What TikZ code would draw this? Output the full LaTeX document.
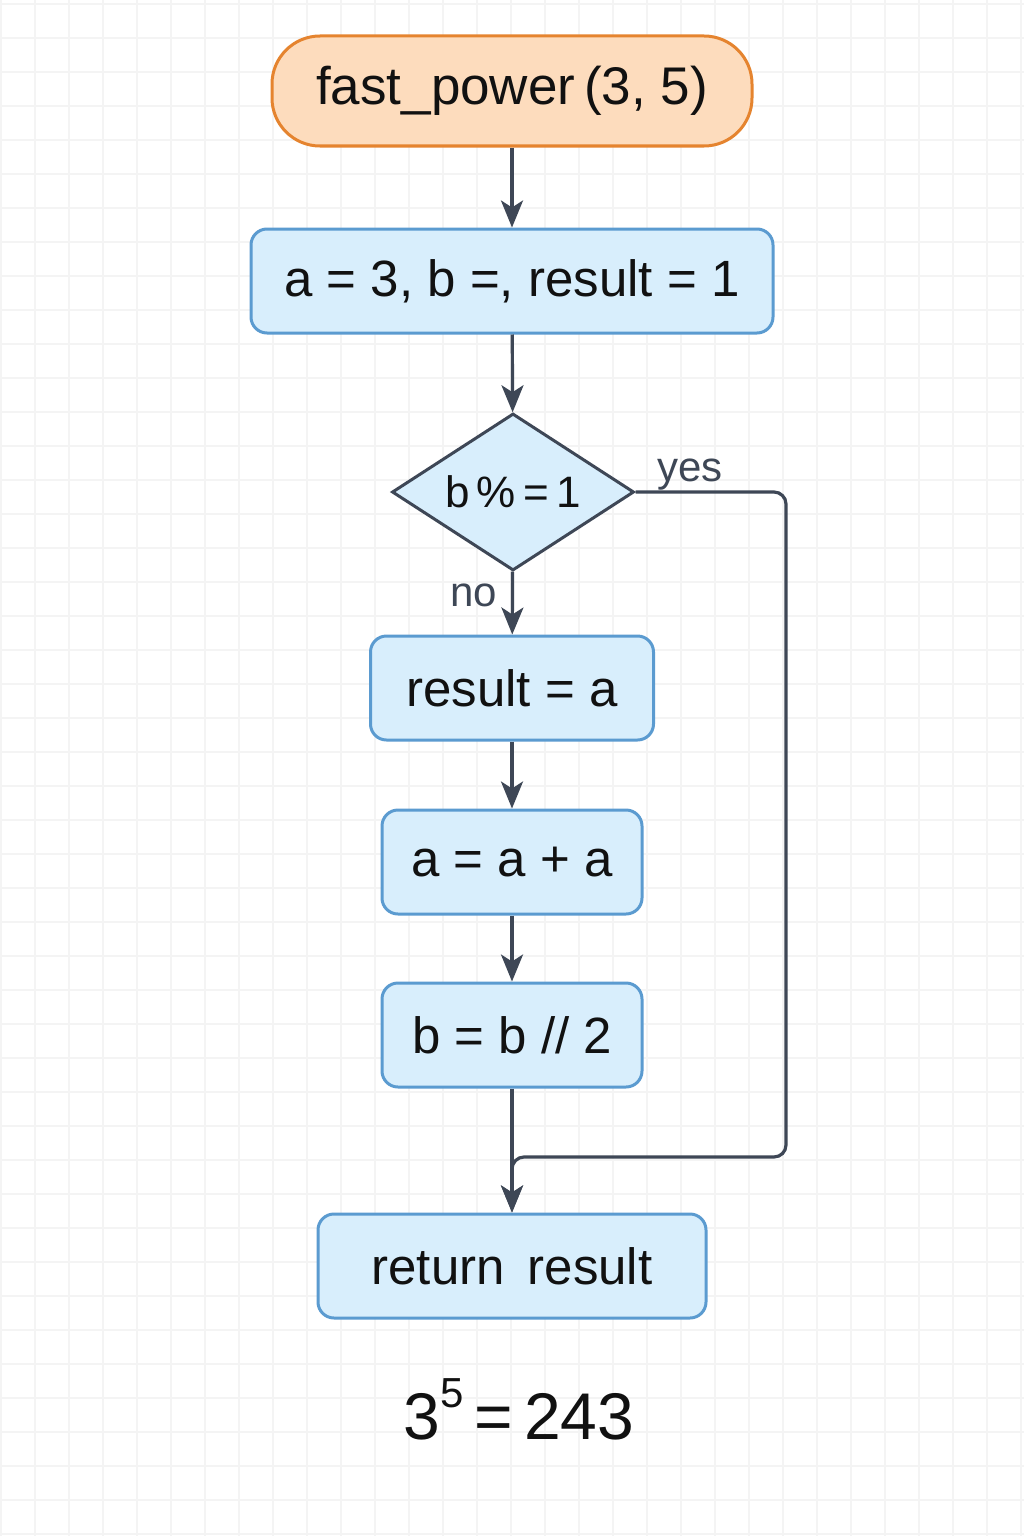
\documentclass[tikz,border=0pt]{standalone}
\usepackage{fontspec}
\setmainfont{Liberation Sans}
\usetikzlibrary{shapes.geometric,arrows.meta}
\definecolor{peachfill}{HTML}{FDDCBD}
\definecolor{peachdraw}{HTML}{E5842F}
\definecolor{bluefill}{HTML}{D8EEFC}
\definecolor{bluedraw}{HTML}{5B9BD0}
\definecolor{slate}{HTML}{3E4756}
\definecolor{gridc}{HTML}{F4F4F4}
\definecolor{txt}{HTML}{111111}
\begin{document}
\begin{tikzpicture}[x=1pt,y=-1pt,
  startbox/.style={draw=peachdraw, fill=peachfill, line width=3pt, rounded corners=48pt,
    minimum width=480pt, minimum height=110pt, inner sep=0pt, text=txt,
    font=\fontsize{53}{60}\selectfont},
  procbox/.style={draw=bluedraw, fill=bluefill, line width=3pt, rounded corners=16pt,
    minimum height=104pt, inner sep=0pt, text=txt, font=\fontsize{51}{58}\selectfont},
  decbox/.style={diamond, aspect=1.54, draw=slate, fill=bluefill, line width=3pt,
    minimum width=242pt, minimum height=157pt, inner sep=0pt, text=txt,
    font=\fontsize{44}{50}\selectfont},
  conn/.style={draw=slate, line width=3.2pt, -{Stealth[length=27pt,width=22pt,inset=7pt]}},
  lbl/.style={text=slate, font=\fontsize{42}{48}\selectfont, inner sep=2pt},
]
% background and grid
\fill[white] (0,0) rectangle (1024,1536);
\useasboundingbox (0,0) rectangle (1024,1536);
\foreach \k in {0,...,30} {
  \draw[gridc, line width=1.2pt] ({1+34*\k},0) -- ({1+34*\k},1536);
}
\foreach \k in {0,...,45} {
  \draw[gridc, line width=1.2pt] (0,{4+34*\k}) -- (1024,{4+34*\k});
}
% nodes
\node[startbox] (start) at (512,91) {fast\_power\,(3, 5)};
\node[procbox, minimum width=522pt] (init) at (512,281) {a = 3, b =, result = 1};
\node[decbox] (cond) at (513,492) {b\,\%\,=\,1};
\node[procbox, minimum width=283pt] (res) at (512,688) {result = a};
\node[procbox, minimum width=260pt] (dbl) at (512,862) {a = a + a};
\node[procbox, minimum width=260pt] (half) at (512,1035) {b = b // 2};
\node[procbox, minimum width=388pt] (ret) at (512,1266) {return\hspace{0.45em}result\hspace{24pt}};
\node[text=txt, font=\fontsize{66}{72}\selectfont] (eq) at (519,1409)
  {3\raisebox{32pt}{\fontsize{42}{46}\selectfont 5}\hspace{11pt}=\hspace{11pt}243};
% connectors
\coordinate (yesdown) at (786,1157);
\coordinate (merge) at (512,1157);
\draw[conn] (start) -- (init);
\draw[conn] (init) -- (cond);
\draw[conn] (cond) -- node[lbl, pos=0.38, left=12pt] {no} (res);
\draw[conn] (res) -- (dbl);
\draw[conn] (dbl) -- (half);
\draw[conn] (half) -- (ret);
\draw[conn, rounded corners=12pt] (cond.east) -| node[lbl, pos=0.18, above=-2pt] {yes} (yesdown) -- (merge) -- (ret.north);
\end{tikzpicture}
\end{document}
